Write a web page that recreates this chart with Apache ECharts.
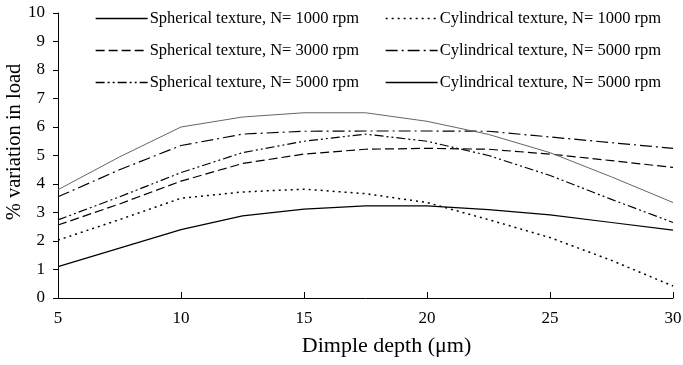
<!DOCTYPE html>
<html><head><meta charset="utf-8">
<script src="https://cdn.jsdelivr.net/npm/echarts@6/dist/echarts.min.js"></script>
<style>html,body{margin:0;padding:0;background:#fff}#c{width:683px;height:365px}</style>
</head><body><div id="c"></div>
<script>
const depth = [5, 7.5, 10, 12.5, 15, 17.5, 20, 22.5, 25, 27.5, 30];
const sph1000 = [1.1, 1.75, 2.4, 2.88, 3.12, 3.23, 3.23, 3.1, 2.92, 2.65, 2.38];
const cyl1000 = [2.03, 2.75, 3.5, 3.72, 3.82, 3.66, 3.35, 2.75, 2.12, 1.32, 0.42];
const sph3000 = [2.56, 3.3, 4.1, 4.72, 5.05, 5.22, 5.25, 5.22, 5.05, 4.82, 4.58];
const sph5000 = [2.74, 3.55, 4.4, 5.1, 5.5, 5.75, 5.5, 5.0, 4.3, 3.46, 2.65];
const cyl5000a = [3.55, 4.5, 5.35, 5.75, 5.85, 5.86, 5.86, 5.85, 5.65, 5.45, 5.25];
const cyl5000b = [3.8, 4.95, 6.0, 6.35, 6.5, 6.5, 6.2, 5.74, 5.1, 4.25, 3.35];
const names = ['Spherical texture, N= 1000 rpm','Spherical texture, N= 3000 rpm','Spherical texture, N= 5000 rpm',
  'Cylindrical texture, N= 1000 rpm','Cylindrical texture, N= 5000 rpm','Cylindrical texture, N= 5000 rpm '];
const yTicks = [0,1,2,3,4,5,6,7,8,9,10];
const xTicks = [5,10,15,20,25,30];
const yTitle = '% variation in load';

const font = 'Liberation Serif';
function pairs(v){ return depth.map((d,i)=>[d,v[i]]); }
function mk(name, vals, color, width, dash){
  return {name, type:'line', data:pairs(vals), symbol:'none', smooth:false,
    lineStyle:{color, width, type:dash}, itemStyle:{color}, z: 2};
}
const legendBase = {orient:'vertical', top:5, itemWidth:52, itemHeight:17, itemGap:15,
  itemStyle:{opacity:0}, lineStyle:{color:'#000', width:1.3},
  textStyle:{fontFamily:font, fontSize:16.5, color:'#000', padding:[0,0,0,-3]}};
const chart = echarts.init(document.getElementById('c'));
chart.setOption({
  animation:false,
  backgroundColor:'#fff',
  grid:{left:58, right:10, top:13, bottom:67, containLabel:false, outerBoundsMode:'none'},
  legend:[
    Object.assign({data:names.slice(0,3), left:90}, legendBase),
    Object.assign({data:names.slice(3), left:380}, legendBase)
  ],
  graphic:[{type:'text', x:15, y:142, rotation:Math.PI/2,
    style:{text:yTitle, font:'20.5px "Liberation Serif"', fill:'#000', align:'center', verticalAlign:'middle'}}],
  xAxis:{type:'value', min:5, max:30, interval:5,
    name:'Dimple depth (μm)', nameLocation:'middle', nameGap:37,
    nameTextStyle:{fontFamily:font, fontSize:22, color:'#000', padding:[0,0,0,42]},
    axisLine:{lineStyle:{color:'#000', width:1}},
    axisTick:{inside:true, length:6, lineStyle:{color:'#000'}},
    axisLabel:{fontFamily:font, fontSize:17, color:'#000', margin:12,
      formatter:v=>xTicks.includes(v)?String(v):''},
    splitLine:{show:false}},
  yAxis:{type:'value', min:0, max:10, interval:1,
    axisLine:{show:true, lineStyle:{color:'#000', width:1}},
    axisTick:{show:true, length:5, lineStyle:{color:'#000'}},
    axisLabel:{fontFamily:font, fontSize:17, color:'#000', margin:13,
      formatter:v=>yTicks.includes(v)?String(v):''},
    splitLine:{show:false}},
  series:[
    mk(names[0], sph1000, '#000', 1.2, 'solid'),
    mk(names[1], sph3000, '#000', 1.2, [9,4]),
    mk(names[2], sph5000, '#000', 1.2, [9,3,2,3,2,3]),
    mk(names[3], cyl1000, '#000', 1.5, [2,4]),
    mk(names[4], cyl5000a, '#000', 1.2, [12,4,2,4]),
    mk(names[5], cyl5000b, '#666', 1, 'solid')
  ]
});
</script></body></html>
